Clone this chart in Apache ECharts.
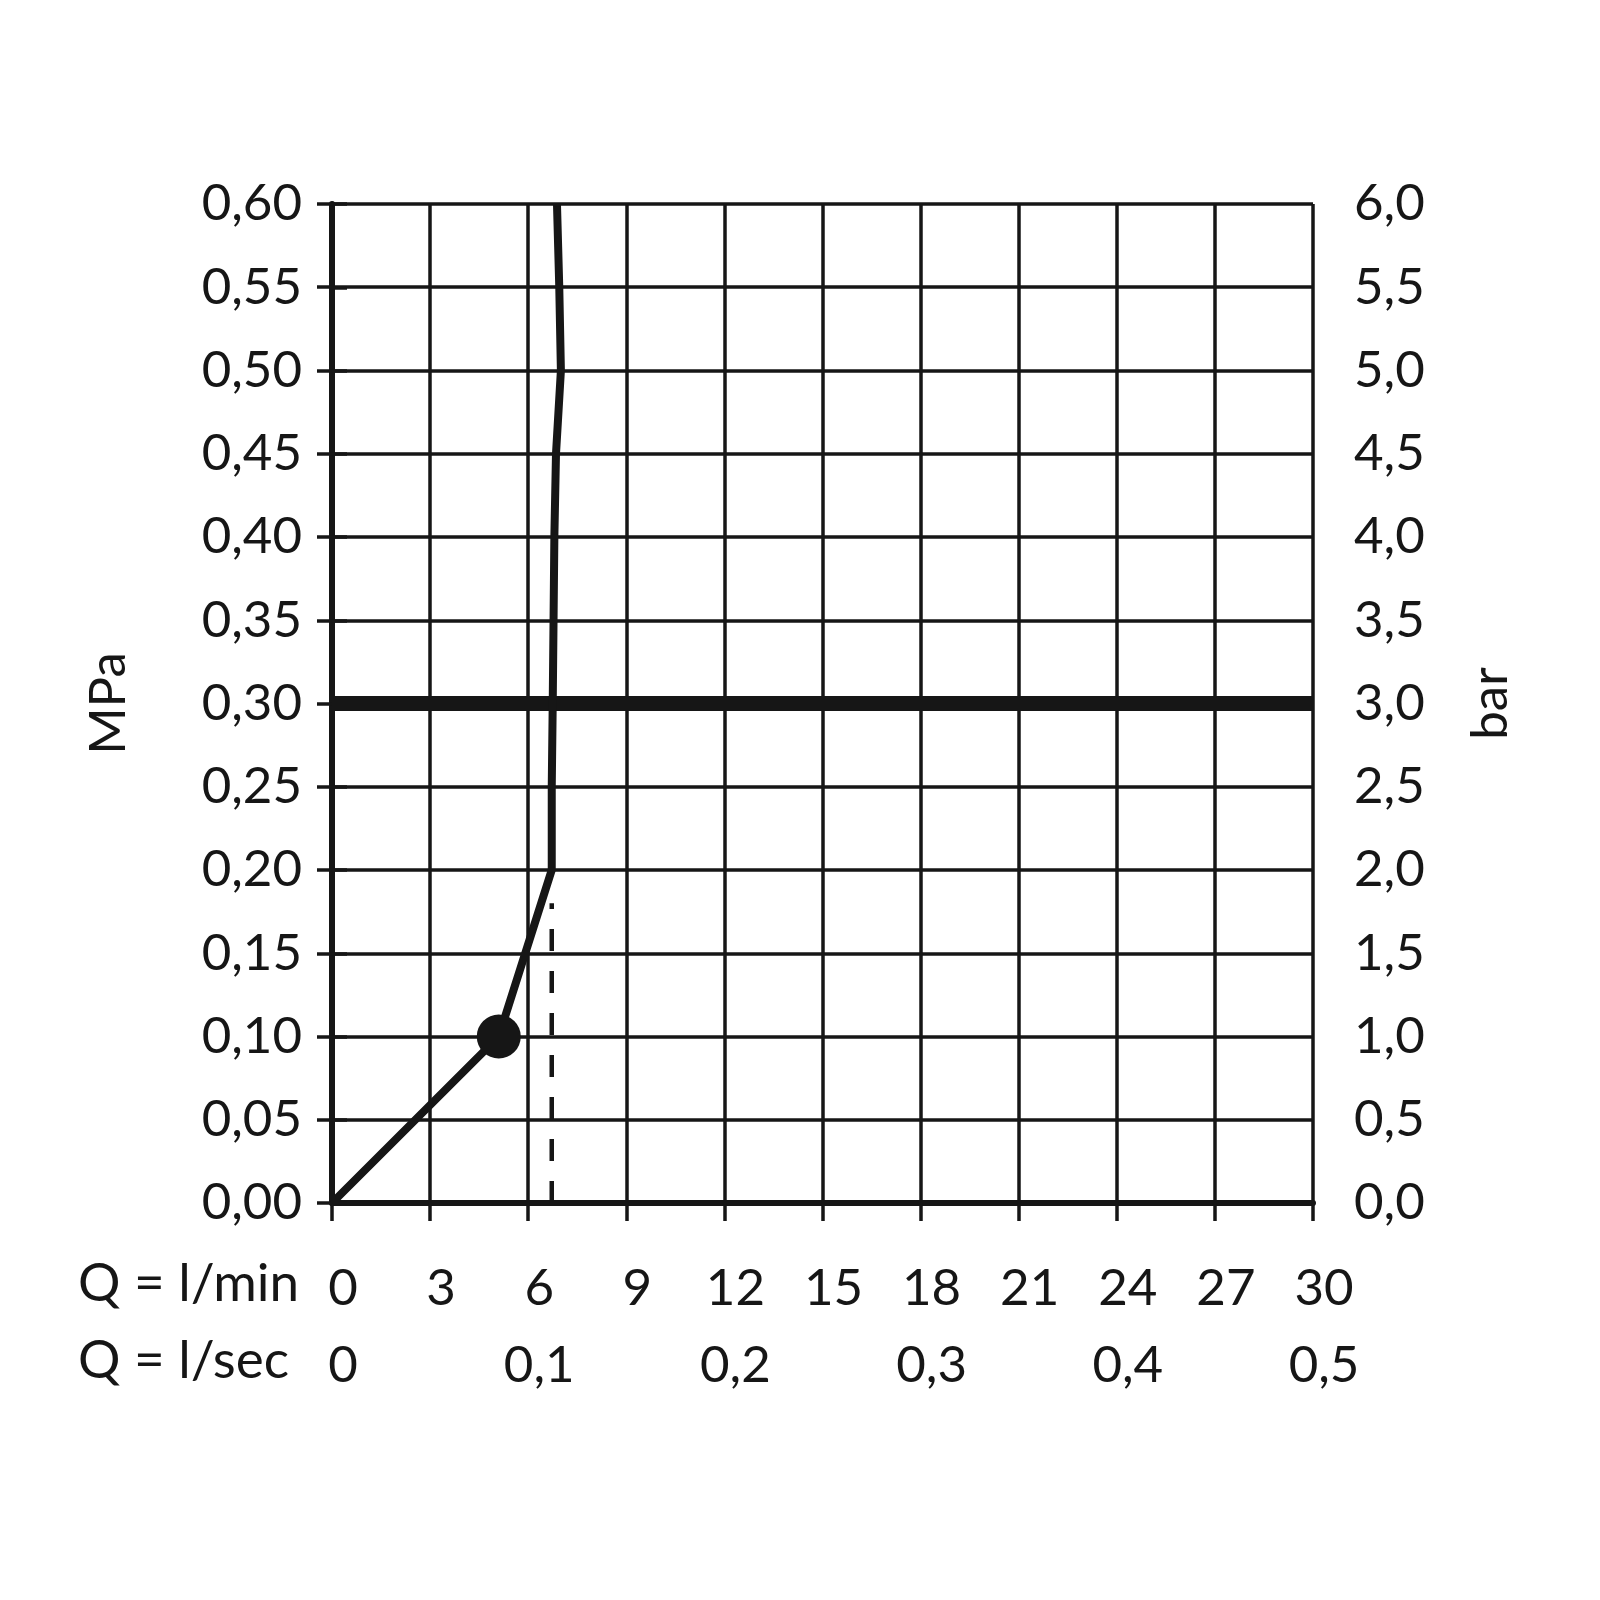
<!DOCTYPE html>
<html><head><meta charset="utf-8">
<script src="https://cdn.jsdelivr.net/npm/echarts@6/dist/echarts.min.js"></script>
<style>html,body{margin:0;padding:0;background:#fff}#c{width:1600px;height:1600px}</style>
</head><body><div id="c"></div>
<script>
// Flow rate Q (l/min) vs pressure (MPa)
const curveQ = [0, 5.1, 6.72, 6.72, 6.75, 6.8, 6.85, 7.0, 6.95, 6.88];
const curveP = [0, 0.10, 0.20, 0.25, 0.30, 0.40, 0.45, 0.50, 0.55, 0.60];
const markerQ = [5.1];
const markerP = [0.10];
const dashQ = [6.72, 6.72];
const dashP = [0, 0.18];
const refLineQ = [0, 30];
const refLineP = [0.30, 0.30];
const rowLabels = ['Q = l/min', 'Q = l/sec'];
const axisNames = ['MPa', 'bar'];

const zip = (a, b) => a.map((v, i) => [v, b[i]]);
const ink = '#161616';
const FONT = 'Lato';
const FS = 51;

const chart = echarts.init(document.getElementById('c'), null, {renderer: 'canvas'});
chart.setOption({
  backgroundColor: '#fff',
  animation: false,
  grid: {left: 332, right: 287, top: 204, bottom: 397, containLabel: false},
  xAxis: [{
    type: 'value', min: 0, max: 30, interval: 3, position: 'bottom',
    axisLine: {show: true, lineStyle: {color: ink, width: 6}},
    axisTick: {show: true, length: 18, lineStyle: {color: ink, width: 3.5}},
    splitLine: {show: true, lineStyle: {color: ink, width: 3.5}},
    axisLabel: {color: ink, fontFamily: FONT, fontSize: FS, margin: 60, padding: [0, 0, 0, 22],
      formatter: v => String(v)}
  }, {
    type: 'value', min: 0, max: 30, interval: 3, position: 'bottom', offset: 77,
    axisLine: {show: false}, axisTick: {show: false}, splitLine: {show: false},
    axisLabel: {color: ink, fontFamily: FONT, fontSize: FS, margin: 60, padding: [0, 0, 0, 22],
      formatter: v => (v % 6 === 0 ? (v === 0 ? '0' : (v / 60).toFixed(1).replace('.', ',')) : '')}
  }],
  yAxis: [{
    type: 'value', min: 0, max: 0.6, interval: 0.05, position: 'left',
    name: axisNames[0], nameLocation: 'middle', nameRotate: 90, nameGap: 198,
    nameTextStyle: {color: ink, fontFamily: FONT, fontSize: FS},
    axisLine: {show: true, lineStyle: {color: ink, width: 6}},
    axisTick: {show: true, length: 15, lineStyle: {color: ink, width: 3.5}},
    splitLine: {show: true, lineStyle: {color: ink, width: 3.5}},
    axisLabel: {color: ink, fontFamily: FONT, fontSize: FS, margin: 30,
      formatter: v => v.toFixed(2).replace('.', ',')}
  }, {
    type: 'value', min: 0, max: 6, interval: 0.5, position: 'right',
    name: axisNames[1], nameLocation: 'middle', nameRotate: 90, nameGap: 152,
    nameTextStyle: {color: ink, fontFamily: FONT, fontSize: FS},
    axisLine: {show: true, lineStyle: {color: ink, width: 5}},
    axisTick: {show: true, length: 15, lineStyle: {color: ink, width: 3.5}},
    splitLine: {show: false},
    axisLabel: {color: ink, fontFamily: FONT, fontSize: FS, margin: 41,
      formatter: v => v.toFixed(1).replace('.', ',')}
  }],
  graphic: [
    {type: 'text', left: 78, top: 1288 - 31, style: {text: rowLabels[0], fill: ink, font: '53px ' + FONT}},
    {type: 'text', left: 78, top: 1365 - 31, style: {text: rowLabels[1], fill: ink, font: '53px ' + FONT}}
  ],
  series: [{
    type: 'line', xAxisIndex: 0, yAxisIndex: 0, data: zip(refLineQ, refLineP),
    symbol: 'none', lineStyle: {color: ink, width: 15}, z: 3
  }, {
    type: 'line', xAxisIndex: 0, yAxisIndex: 0, data: zip(dashQ, dashP),
    symbol: 'none', lineStyle: {color: ink, width: 4.5, type: [22, 20]}, z: 4
  }, {
    type: 'line', xAxisIndex: 0, yAxisIndex: 0, data: zip(curveQ, curveP),
    symbol: 'none', lineStyle: {color: ink, width: 8, join: 'round'}, z: 5
  }, {
    type: 'scatter', xAxisIndex: 0, yAxisIndex: 0, data: zip(markerQ, markerP),
    symbol: 'circle', symbolSize: 44, itemStyle: {color: ink, opacity: 1}, z: 6
  }]
});
</script></body></html>
